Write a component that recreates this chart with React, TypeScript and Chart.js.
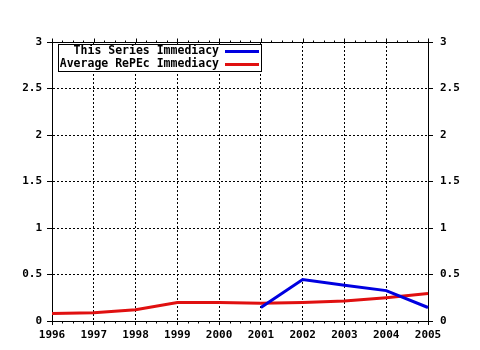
import React, { useEffect, useRef } from 'react';
import { Chart, registerables } from 'chart.js';
Chart.register(...registerables);

const years = ['1996', '1997', '1998', '1999', '2000', '2001', '2002', '2003', '2004', '2005'];
const seriesValues = [null, null, null, null, null, 0.145, 0.445, 0.385, 0.327, 0.145];
const averageValues = [0.08, 0.09, 0.12, 0.2, 0.2, 0.19, 0.2, 0.215, 0.25, 0.295];
const yTickLabels: Record<string, string> = { '0': '0', '0.5': '0.5', '1': '1', '1.5': '1.5', '2': '2', '2.5': '2.5', '3': '3' };
const legendLabels = ['This Series Immediacy', 'Average RePEc Immediacy'];
const seriesColors = ['#0000e0', '#e01010'];
const minorPerYear = 4;

const FONT = { family: '"DejaVu Sans Mono", monospace', size: 11, weight: 'bold' as const };

const framePlugin = {
  id: 'frameTicks',
  afterDraw(chart: any) {
    const ctx = chart.ctx;
    const area = chart.chartArea;
    const xs = chart.scales.x;
    ctx.save();
    ctx.strokeStyle = '#000000';
    ctx.lineWidth = 1;
    ctx.setLineDash([]);
    const top = Math.round(area.top) + 0.5;
    const bottom = Math.round(area.bottom) + 0.5;
    ctx.beginPath();
    ctx.moveTo(area.left, top);
    ctx.lineTo(area.right + 1, top);
    const n = (years.length - 1) * minorPerYear;
    for (let k = 0; k <= n; k++) {
      const px = Math.round(xs.getPixelForValue(k / minorPerYear)) + 0.5;
      const major = k % minorPerYear === 0;
      ctx.moveTo(px, top);
      ctx.lineTo(px, top - (major ? 4 : 2));
      if (!major) {
        ctx.moveTo(px, bottom);
        ctx.lineTo(px, bottom + 2);
      }
    }
    ctx.stroke();
    ctx.restore();
  },
};

const legendPlugin = {
  id: 'boxLegend',
  afterDraw(chart: any) {
    const ctx = chart.ctx;
    const area = chart.chartArea;
    const x0 = area.left + 6;
    const y0 = area.top + 2;
    const w = 204;
    const h = 28;
    ctx.save();
    ctx.fillStyle = '#ffffff';
    ctx.fillRect(x0, y0, w, h);
    ctx.strokeStyle = '#000000';
    ctx.lineWidth = 1;
    ctx.strokeRect(x0 + 0.5, y0 + 0.5, w - 1, h - 1);
    ctx.font = 'bold 11.5px "DejaVu Sans Mono", monospace';
    ctx.textAlign = 'right';
    ctx.textBaseline = 'middle';
    ctx.fillStyle = '#000000';
    legendLabels.forEach((label, i) => {
      const cy = y0 + 7.5 + i * 13;
      ctx.fillText(label, x0 + 161, cy);
      ctx.strokeStyle = seriesColors[i];
      ctx.lineWidth = 3;
      ctx.beginPath();
      ctx.moveTo(x0 + 167, cy);
      ctx.lineTo(x0 + 201, cy);
      ctx.stroke();
    });
    ctx.restore();
  },
};

export default function App() {
  const ref = useRef<HTMLCanvasElement>(null);
  useEffect(() => {
    const canvas = ref.current!;
    const chart = new Chart(canvas, {
      type: 'line',
      data: {
        labels: years,
        datasets: [
          {
            label: legendLabels[0],
            data: seriesValues as any,
            borderColor: seriesColors[0],
            backgroundColor: seriesColors[0],
            borderWidth: 3,
            pointRadius: 0,
            spanGaps: false,
            tension: 0,
          },
          {
            label: legendLabels[1],
            data: averageValues,
            borderColor: seriesColors[1],
            backgroundColor: seriesColors[1],
            borderWidth: 3,
            pointRadius: 0,
            tension: 0,
          },
        ],
      },
      options: {
        animation: false,
        responsive: false,
        devicePixelRatio: 1,
        layout: { padding: { top: 42, left: 0, right: 0, bottom: 0 } },
        plugins: { legend: { display: false }, tooltip: { enabled: false } },
        scales: {
          x: {
            type: 'category',
            offset: false,
            afterFit: (s: any) => { s.height = 29; },
            grid: { color: '#000000', lineWidth: 1, tickLength: 4, tickBorderDash: [], tickColor: '#000000' },
            border: { display: true, color: '#000000', width: 1, dash: [2, 2] },
            ticks: { color: '#000000', font: FONT, padding: 4, maxRotation: 0, autoSkip: false },
          },
          y: {
            position: 'left',
            min: 0,
            max: 3,
            afterFit: (s: any) => { s.width = 52; },
            grid: { color: '#000000', lineWidth: 1, tickLength: 5, tickBorderDash: [], tickColor: '#000000' },
            border: { display: true, color: '#000000', width: 1, dash: [2, 2] },
            ticks: {
              stepSize: 0.5,
              color: '#000000',
              font: FONT,
              padding: 5,
              callback: (v: any) => yTickLabels[String(v)] ?? String(v),
            },
          },
          y2: {
            position: 'right',
            min: 0,
            max: 3,
            afterFit: (s: any) => { s.width = 52; },
            grid: { drawOnChartArea: false, color: '#000000', tickLength: 5, tickBorderDash: [], tickColor: '#000000' },
            border: { display: true, color: '#000000', width: 1 },
            ticks: {
              stepSize: 0.5,
              color: '#000000',
              font: FONT,
              padding: 7,
              callback: (v: any) => yTickLabels[String(v)] ?? String(v),
            },
          },
        },
      },
      plugins: [framePlugin, legendPlugin],
    });
    return () => chart.destroy();
  }, []);
  return (
    <div style={{ position: 'absolute', left: 0, top: 0, width: 480, height: 350, background: '#ffffff' }}>
      <canvas ref={ref} width={480} height={350} />
    </div>
  );
}
